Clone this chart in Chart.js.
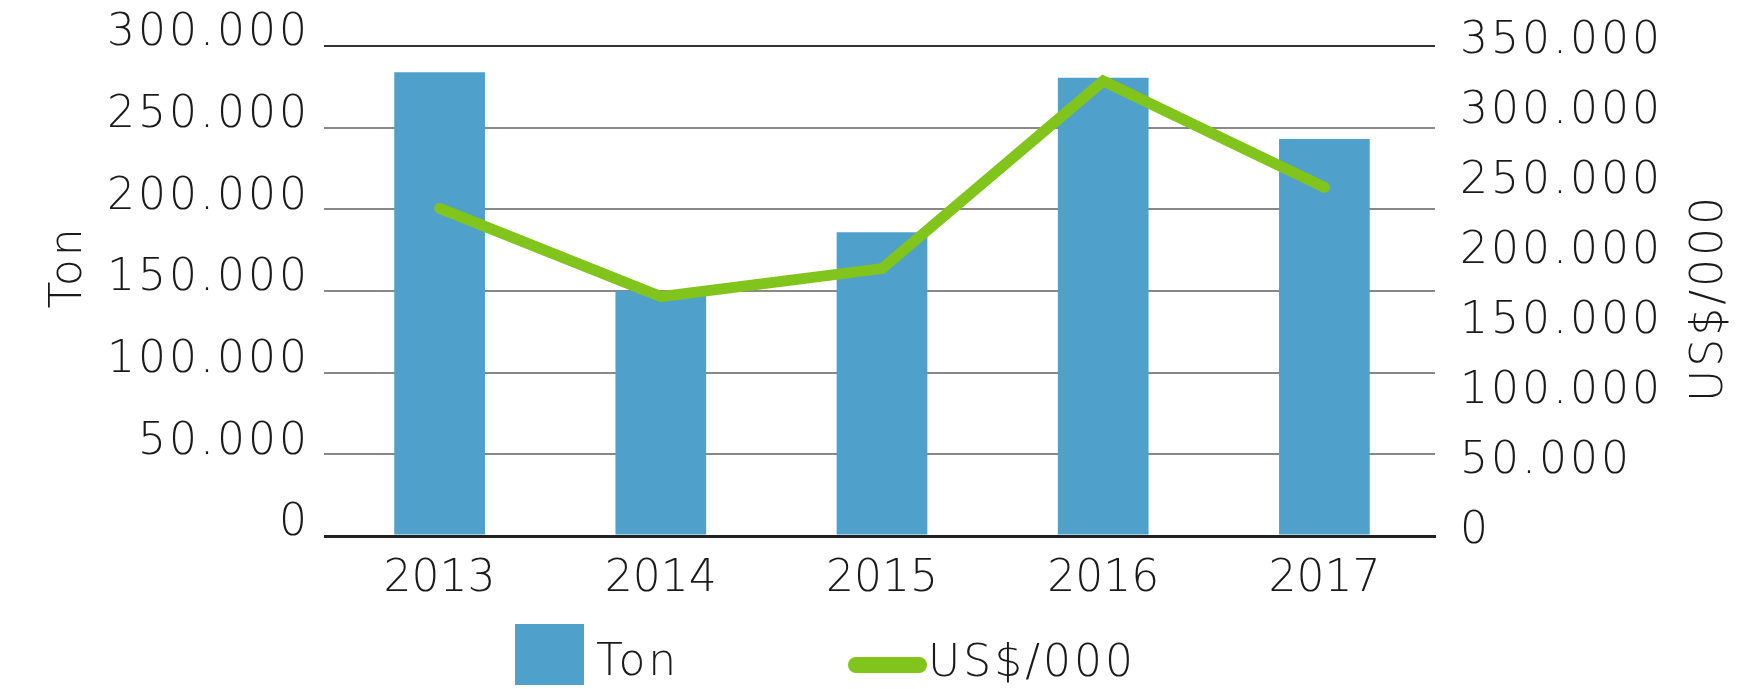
<!DOCTYPE html>
<html>
<head>
<meta charset="utf-8">
<script src="https://cdn.jsdelivr.net/npm/chart.js@4.4.1/dist/chart.umd.min.js"></script>
<style>
  html, body { margin: 0; padding: 0; background: #ffffff; }
  #wrap { width: 1748px; height: 689px; position: relative; }
</style>
</head>
<body>
<div id="wrap"><canvas id="c" width="1748" height="689"></canvas></div>
<script>
// ---- data ----
const years = ['2013', '2014', '2015', '2016', '2017'];
const tons = [284000, 150000, 186000, 280500, 243000];
const usdThousands = [234000, 171000, 191000, 325000, 249000];
const leftTicksMax = 300000;
const rightTicksMax = 350000;
const tickStep = 50000;
const barLabel = 'Ton';
const lineLabel = 'US$/000';
const leftTitle = 'Ton';
const rightTitle = 'US$/000';

// ---- style ----
const BLUE = '#4fa0ca';
const GREEN = '#80c41c';
const TEXT = '#1a1a1a';
const FAMILY = "'DejaVu Sans', sans-serif";
const FONT = { family: FAMILY, size: 44, weight: 200 };
const SPACING = '3px';

function fmt(v) {
  return String(v).replace(/\B(?=(\d{3})+(?!\d))/g, '.');
}

const extrasPlugin = {
  id: 'extras',
  beforeDraw(chart) {
    const ctx = chart.ctx;
    ctx.letterSpacing = SPACING;
    const xs = chart.scales.x;
    if (xs && !xs._noSpacingPatch) {
      const orig = xs.drawLabels.bind(xs);
      xs.drawLabels = function (area) {
        const prev = chart.ctx.letterSpacing;
        chart.ctx.letterSpacing = '0px';
        orig(area);
        chart.ctx.letterSpacing = prev;
      };
      xs._noSpacingPatch = true;
    }
  },
  afterDraw(chart) {
    const ctx = chart.ctx;
    ctx.save();
    ctx.letterSpacing = SPACING;
    ctx.fillStyle = TEXT;
    ctx.font = `${FONT.weight} ${FONT.size}px ${FAMILY}`;
    ctx.textAlign = 'center';
    ctx.textBaseline = 'middle';
    // axis titles (both read bottom-to-top)
    ctx.save();
    ctx.translate(70, 267);
    ctx.rotate(-Math.PI / 2);
    ctx.fillText(leftTitle, 0, 0);
    ctx.restore();
    ctx.save();
    ctx.translate(1711, 298);
    ctx.rotate(-Math.PI / 2);
    ctx.fillText(rightTitle, 0, 0);
    ctx.restore();

    // legend
    const barDs = chart.data.datasets[1];
    const lineDs = chart.data.datasets[0];
    ctx.textAlign = 'left';
    ctx.textBaseline = 'alphabetic';
    ctx.fillStyle = barDs.backgroundColor;
    ctx.fillRect(515, 624, 69, 61);
    ctx.fillStyle = TEXT;
    ctx.fillText(barDs.label, 596, 675);

    ctx.strokeStyle = lineDs.borderColor;
    ctx.lineWidth = 16;
    ctx.lineCap = 'round';
    ctx.beginPath();
    ctx.moveTo(856, 665);
    ctx.lineTo(919, 665);
    ctx.stroke();
    ctx.fillText(lineDs.label, 928, 676);
    ctx.restore();
  }
};

new Chart(document.getElementById('c'), {
  data: {
    labels: years,
    datasets: [
      {
        type: 'line',
        label: lineLabel,
        data: usdThousands,
        yAxisID: 'y1',
        borderColor: GREEN,
        backgroundColor: GREEN,
        borderWidth: 11,
        borderCapStyle: 'round',
        borderJoinStyle: 'miter',
        pointRadius: 0,
        tension: 0,
        order: 0
      },
      {
        type: 'bar',
        label: barLabel,
        data: tons,
        yAxisID: 'y',
        backgroundColor: BLUE,
        barPercentage: 0.41,
        categoryPercentage: 1,
        order: 1
      }
    ]
  },
  options: {
    responsive: false,
    animation: false,
    layout: { padding: { top: 46, left: 0, right: 0, bottom: 0 } },
    plugins: { legend: { display: false }, tooltip: { enabled: false } },
    scales: {
      x: {
        grid: { display: false, drawTicks: false },
        border: { display: true, color: '#222222', width: 3 },
        ticks: { font: FONT, color: TEXT, padding: 17, maxRotation: 0 },
        afterFit(s) { s.height = 153; s.paddingLeft = 0; s.paddingRight = 0; }
      },
      y: {
        position: 'left',
        min: 0,
        max: leftTicksMax,
        ticks: { stepSize: tickStep, callback: v => fmt(v), padding: 14, labelOffset: -12, font: FONT, color: TEXT },
        grid: {
          color: c => (c.tick && (c.tick.value === leftTicksMax) ? '#333333' : (c.tick && c.tick.value === 0 ? '#222222' : '#888888')),
          lineWidth: c => (c.tick && c.tick.value === 0 ? 3 : 2),
          drawTicks: true,
          tickLength: 5
        },
        border: { display: false },
        afterFit(s) { s.width = 329; s.paddingTop = 0; s.paddingBottom = 0; }
      },
      y1: {
        position: 'right',
        min: 0,
        max: rightTicksMax,
        ticks: { stepSize: tickStep, callback: v => fmt(v), padding: 25, labelOffset: -4, font: FONT, color: TEXT },
        grid: { display: false, drawTicks: false },
        border: { display: false },
        afterFit(s) { s.width = 313; s.paddingTop = 0; s.paddingBottom = 0; }
      }
    }
  },
  plugins: [extrasPlugin]
});
</script>
</body>
</html>
